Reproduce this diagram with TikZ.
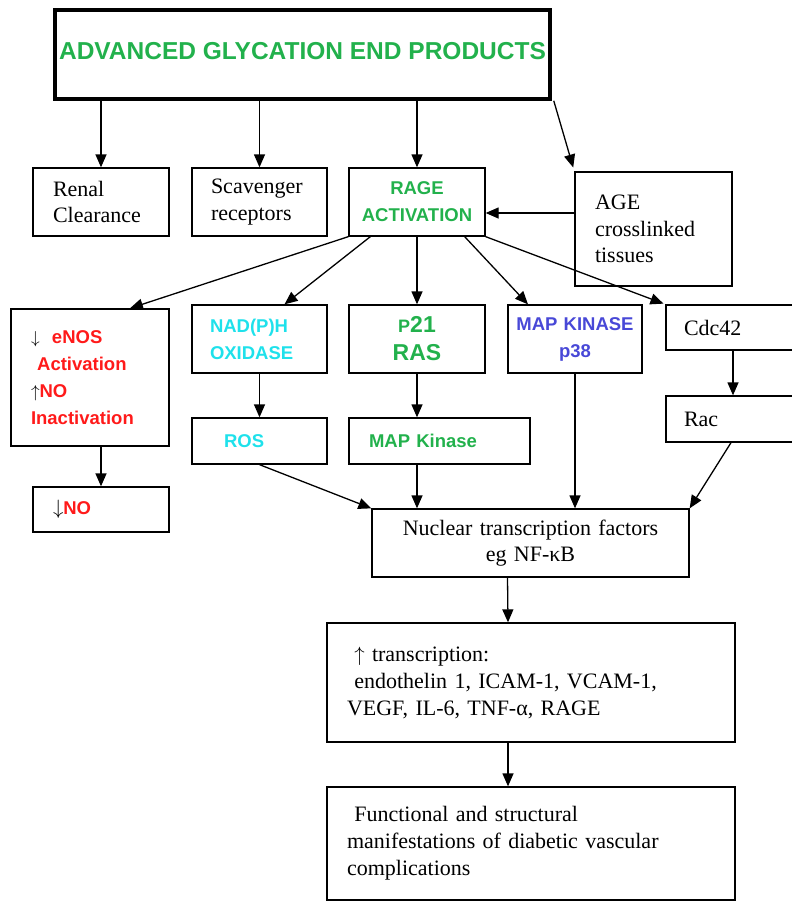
\documentclass[tikz,border=0pt]{standalone}
\usepackage{fontspec}
\setmainfont{Liberation Serif}
\setsansfont{Liberation Sans}
\usetikzlibrary{arrows.meta}
\definecolor{ageGreen}{RGB}{34,177,76}
\definecolor{ageCyan}{RGB}{30,225,235}
\definecolor{ageBlue}{RGB}{72,72,215}
\definecolor{ageRed}{RGB}{255,26,26}
\begin{document}
\begin{tikzpicture}[x=1pt,y=-1pt]
	\tikzset{box/.style={draw=black, line width=1.3pt, align=left, font=\fontsize{22}{26.5}\selectfont},
		bx/.style n args={4}{minimum width=#1pt, minimum height=#2pt, inner xsep=#3pt, text width=#4pt},
		lbl/.style={font=\sffamily\bfseries\fontsize{18.5}{27}\selectfont},
		arr/.style={-{Triangle[length=13pt,width=11pt]}, line width=1.3pt}};
	\useasboundingbox (0,0) rectangle (792,902);

	\node[draw=black, line width=3.5pt, minimum width=495pt, minimum height=89pt, text=ageGreen, font=\sffamily\bfseries\fontsize{24.5}{28}\selectfont] (top) at (302.5,54.5) {\raisebox{7pt}{ADVANCED GLYCATION END PRODUCTS}};

	\node[box, bx={136}{68}{20}{96}] (renal) at (101,202) {Renal\\Clearance};
	\node[box, bx={135}{68}{19}{97}] (scav) at (259.5,202) {Scavenger\\receptors};
	\node[box, bx={136}{68}{8}{120}, lbl, align=center, text=ageGreen] (rage) at (417,202) {RAGE\\ACTIVATION};
	\node[box, bx={157}{114}{20}{117}] (age) at (653.5,229) {AGE\\crosslinked\\tissues};

	\node[box, bx={158}{137}{20}{118}, lbl, text=ageRed] (enos) at (90,377.5) {\textcolor{black}{$\downarrow$}\ \ eNOS\\\ Activation\\\textcolor{black}{$\uparrow$}NO\\Inactivation};
	\node[box, bx={135}{68}{18}{99}, lbl, text=ageCyan] (nad) at (259.5,339) {NAD(P)H\\OXIDASE};
	\node[box, bx={136}{68}{8}{120}, lbl, align=center, text=ageGreen, font=\sffamily\bfseries\fontsize{23}{28}\selectfont] (p21) at (417,339) {{\fontsize{18}{28}\selectfont P}21\\RAS};
	\node[box, bx={134}{68}{5}{124}, lbl, align=center, text=ageBlue] (mapk) at (575,339) {MAP KINASE\\p38};
	\node[box, bx={134}{45}{18}{98}] (cdc) at (733,327.5) {Cdc42};

	\node[box, bx={135}{46}{32}{71}, lbl, text=ageCyan] (ros) at (259.5,441) {ROS};
	\node[box, bx={181}{46}{20}{141}, lbl, text=ageGreen] (mapkin) at (439.5,441) {MAP Kinase};
	\node[box, bx={134}{46}{18}{98}] (rac) at (733,419) {Rac};
	\node[box, bx={136}{45}{20}{96}, lbl, text=ageRed] (no) at (101,509.5) {\textcolor{black}{\fontsize{22}{27}\selectfont$\downarrow$}NO};

	\node[box, bx={317}{68}{10}{297}, align=center] (nuc) at (530.5,543) {Nuclear transcription factors\\eg NF-κB};
	\node[box, bx={408}{119}{20}{368}, font=\fontsize{22}{27}\selectfont] (trans) at (531,682.5) {\ $\uparrow$ transcription:\\\ endothelin 1, ICAM-1, VCAM-1,\\VEGF, IL-6, TNF-α, RAGE};
	\node[box, bx={408}{113}{20}{368}, font=\fontsize{22}{27}\selectfont] (func) at (531,843.5) {\ Functional and structural\\manifestations of diabetic vascular\\complications};

	\draw[arr] (top.south -| renal.north) -- (renal.north);
	\draw[arr] (top.south -| scav.north) -- (scav.north);
	\draw[arr] (top.south -| rage.north) -- (rage.north);
	\draw[arr, shorten >=4pt] ([xshift=2pt]top.south east) -- (age.north west);
	\draw[arr] (age.west |- 0,213) -- (rage.east |- 0,213);

	\draw[arr] (rage.south west) -- (enos.60);
	\draw[arr] ([xshift=22pt]rage.south west) -- ([xshift=25pt]nad.north);
	\draw[arr] (rage.south) -- (p21.north);
	\draw[arr] ([xshift=-21pt]rage.south east) -- ([xshift=-47pt]mapk.north);
	\draw[arr, shorten >=2pt] (rage.south east) -- (cdc.north west);

	\draw[arr] (nad.south) -- (ros.north);
	\draw[arr] (p21.south) -- (p21.south |- mapkin.north);
	\draw[arr] (no.north |- enos.south) -- (no.north);
	\draw[arr] (cdc.south) -- (rac.north);

	\draw[arr] (ros.south) -- (nuc.north west);
	\draw[arr] (p21.south |- mapkin.south) -- (p21.south |- nuc.north);
	\draw[arr] (mapk.south) -- (mapk.south |- nuc.north);
	\draw[arr] ([xshift=-2pt]rac.south) -- (nuc.north east);

	\draw[arr] ([xshift=-23pt]nuc.south) -- ([xshift=-23pt]trans.north);
	\draw[arr] ([xshift=-23pt]trans.south) -- ([xshift=-23pt]func.north);
\end{tikzpicture}
\end{document}
